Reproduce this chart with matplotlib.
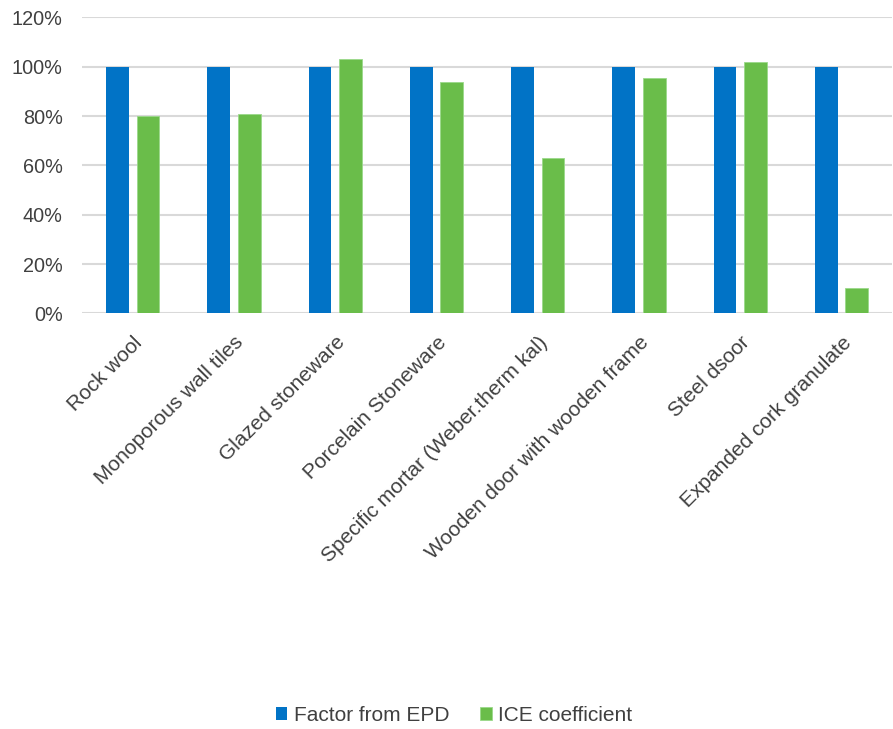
import numpy as np
import matplotlib.pyplot as plt
from matplotlib.ticker import PercentFormatter

plt.rcParams['font.family'] = ['Liberation Sans', 'DejaVu Sans']

categories = ['Rock wool', 'Monoporous wall tiles', 'Glazed stoneware', 'Porcelain Stoneware',
              'Specific mortar (Weber.therm kal)', 'Wooden door with wooden frame',
              'Steel dsoor', 'Expanded cork granulate']
epd = [100, 100, 100, 100, 100, 100, 100, 100]
ice = [80, 81, 103, 94, 63, 95.5, 102, 10.5]

fig = plt.figure(figsize=(8.93, 7.29), dpi=100)
ax = fig.add_axes([0.092, 0.570, 0.907, 0.406])

x = np.arange(len(categories))
w = 0.225
b1 = ax.bar(x - 0.15, epd, w, color='#0173C6', label='Factor from EPD', zorder=3)
b2 = ax.bar(x + 0.15, ice, w, color='#6ABD4A', edgecolor='#9ad98a', linewidth=0.6,
            label='ICE coefficient', zorder=3)

ax.set_xlim(-0.5, len(categories) - 0.5)
ax.set_ylim(0, 120)
ax.set_yticks(np.arange(0, 121, 20))
ax.yaxis.set_major_formatter(PercentFormatter(decimals=0))
ax.grid(axis='y', color='#d9d9d9', linewidth=1.5, zorder=0)
for s in ax.spines.values():
    s.set_visible(False)
ax.tick_params(axis='both', length=0, colors='#404040')
ax.tick_params(axis='y', pad=14, labelsize=14.3)
ax.tick_params(axis='x', pad=14, labelsize=15)
ax.set_xticks(x)
ax.set_xticklabels(categories, rotation=45, ha='right', va='top', rotation_mode='anchor')

fig.legend(handles=[b1, b2], loc='center', bbox_to_anchor=(454 / 893, 0.019), ncol=2,
           frameon=False, fontsize=15, handlelength=0.55, handleheight=0.55,
           handletextpad=0.3, columnspacing=1.5, labelcolor='#404040')

fig.savefig('out.png', dpi=100)
